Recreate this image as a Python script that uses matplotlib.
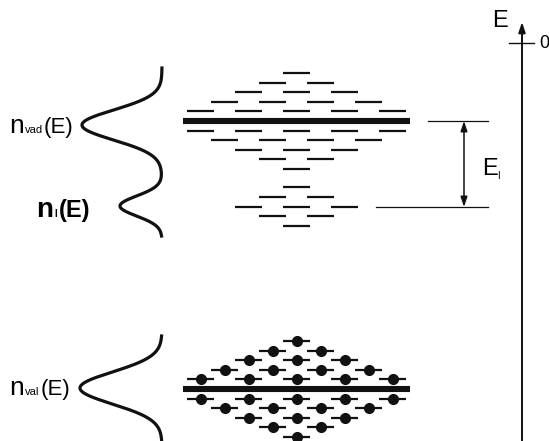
import numpy as np
import matplotlib.pyplot as plt

plt.rcParams['font.family'] = ['Liberation Sans', 'DejaVu Sans']

# number of sublevels per row, counted outwards from the band centre
cb_rows = [5, 4, 3, 2, 1]
imp_rows = [3, 2, 1]
vb_rows = [5, 4, 3, 2, 1]

# density-of-states humps: (centre, depth, width)
upper_dos = [(125, 80, 15), (206, 42, 10)]
lower_dos = [(388, 82, 16)]

dos_subscripts = ['vad', 'I', 'val']

fig = plt.figure(figsize=(5.49, 4.41), dpi=100)
ax = fig.add_axes([0, 0, 1, 1])
ax.set_xlim(0, 549)
ax.set_ylim(441, 0)
ax.axis('off')
renderer = fig.canvas.get_renderer()

ink = '#111111'
xc, pitch, half = 296.5, 48, 13.5
step = 9.6


def row(y, n, dots=False, lw=1.6):
    xs = xc + pitch * (np.arange(n) - (n - 1) / 2)
    for x in xs:
        ax.plot([x - half, x + half], [y, y], color=ink, lw=lw,
                solid_capstyle='butt')
        if dots:
            ax.plot(x, y, 'o', color=ink, ms=7)


def band(yc, rows, dots=False):
    ax.plot([183, 410], [yc, yc], color=ink, lw=4.4, solid_capstyle='butt')
    for k, n in enumerate(rows, start=1):
        row(yc - k * step, n, dots)
        row(yc + k * step, n, dots)


band(121, cb_rows)
band(389, vb_rows, dots=True)

# impurity levels
yi = 206.5
row(yi, imp_rows[0])
for k, n in enumerate(imp_rows[1:], start=1):
    row(yi - k * step, n)
    row(yi + k * step, n)


# density of states curves
def dos(y0, y1, humps):
    y = np.linspace(y0, y1, 400)
    x = np.full_like(y, 162.0)
    for c, a, w in humps:
        x -= a * np.exp(-0.5 * ((y - c) / w) ** 2)
    ax.plot(x, y, color=ink, lw=2.3)


dos(68, 236, upper_dos)
dos(336, 441, lower_dos)


def n_label(x, y, sub, size=16, weight='normal', gap=1.0):
    # "n" + small subscript + "(E)", laid out one after another on a baseline
    for s, fs in (('n', size + 3), (sub, 8 if weight == 'normal' else 7), ('(E)', size)):
        t = ax.text(x, y, s, fontsize=fs, va='baseline', ha='left', weight=weight)
        x += t.get_window_extent(renderer).width + gap


n_label(9, 133, dos_subscripts[0])
n_label(36, 217, dos_subscripts[1], size=17, weight='bold', gap=1.5)
n_label(9, 395, dos_subscripts[2])

# ionisation energy marker
ax.plot([428, 488], [121, 121], color=ink, lw=0.9)
ax.plot([376, 488], [207, 207], color=ink, lw=0.9)
ax.annotate('', xy=(464, 121), xytext=(464, 207),
            arrowprops=dict(arrowstyle='<|-|>,head_length=0.6,head_width=0.2',
                            color=ink, lw=1.1, shrinkA=0, shrinkB=0))
ax.text(482, 175, 'E', fontsize=17, va='baseline', ha='left')
ax.text(497, 179, 'I', fontsize=7, va='baseline', ha='left')

# energy axis
ax.annotate('', xy=(522, 22), xytext=(522, 441),
            arrowprops=dict(arrowstyle='-|>,head_length=0.6,head_width=0.2',
                            color=ink, lw=1.4, shrinkA=0, shrinkB=0))
ax.plot([509, 534], [43, 43], color=ink, lw=1.0)
ax.text(539, 48, '0', fontsize=13, va='baseline', ha='left')
ax.text(492, 27, 'E', fontsize=17, va='baseline', ha='left')

fig.savefig('out.png', dpi=100)
